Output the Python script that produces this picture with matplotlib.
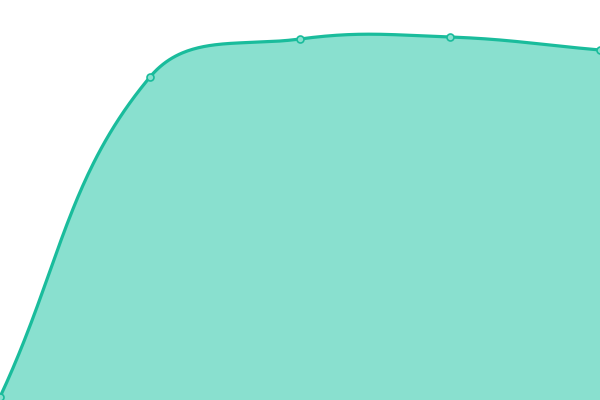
import matplotlib
import matplotlib.pyplot as plt
import numpy as np

matplotlib.use("Agg")

# Data (category index, value on a 0-100 scale)
categories = ["A", "B", "C", "D", "E"]
values = [0.75, 80.75, 90.25, 90.75, 87.5]

LINE = "#1abc9c"
FILL = "#89e0cf"
TENSION = 0.4


def spline_path(px, py, tension=TENSION, n=80):
    """Bezier spline through points (in pixel space), Chart.js style."""
    pts = np.column_stack([px, py]).astype(float)
    k = len(pts)
    c_prev = np.zeros_like(pts)
    c_next = np.zeros_like(pts)
    for i in range(k):
        prev = pts[max(i - 1, 0)]
        nxt = pts[min(i + 1, k - 1)]
        d01 = np.hypot(*(pts[i] - prev))
        d12 = np.hypot(*(nxt - pts[i]))
        tot = d01 + d12
        s01 = d01 / tot if tot else 0
        s12 = d12 / tot if tot else 0
        c_prev[i] = pts[i] - tension * s01 * (nxt - prev)
        c_next[i] = pts[i] + tension * s12 * (nxt - prev)
    out = []
    t = np.linspace(0, 1, n)[:, None]
    for i in range(k - 1):
        p0, p1, p2, p3 = pts[i], c_next[i], c_prev[i + 1], pts[i + 1]
        seg = ((1 - t) ** 3 * p0 + 3 * (1 - t) ** 2 * t * p1
               + 3 * (1 - t) * t ** 2 * p2 + t ** 3 * p3)
        out.append(seg if i == 0 else seg[1:])
    return np.vstack(out)


x = np.arange(len(categories))

fig = plt.figure(figsize=(6, 4), dpi=100)
ax = fig.add_axes([0, 0, 1, 1])
ax.set_xlim(0, len(categories) - 1)
ax.set_ylim(0, 100)
ax.axis("off")

disp = ax.transData.transform(np.column_stack([x, values]))
curve = spline_path(disp[:, 0], disp[:, 1])
curve = ax.transData.inverted().transform(curve)
sx, sy = curve[:, 0], curve[:, 1]

ax.fill_between(sx, sy, 0, color=FILL, linewidth=0)
ax.plot(sx, sy, color=LINE, linewidth=2.3, solid_capstyle="round")
ax.plot(x, values, "o", markersize=5, markerfacecolor=FILL,
        markeredgecolor=LINE, markeredgewidth=1.2, clip_on=False)
fig.savefig("out.png", dpi=100)
plt.close(fig)
